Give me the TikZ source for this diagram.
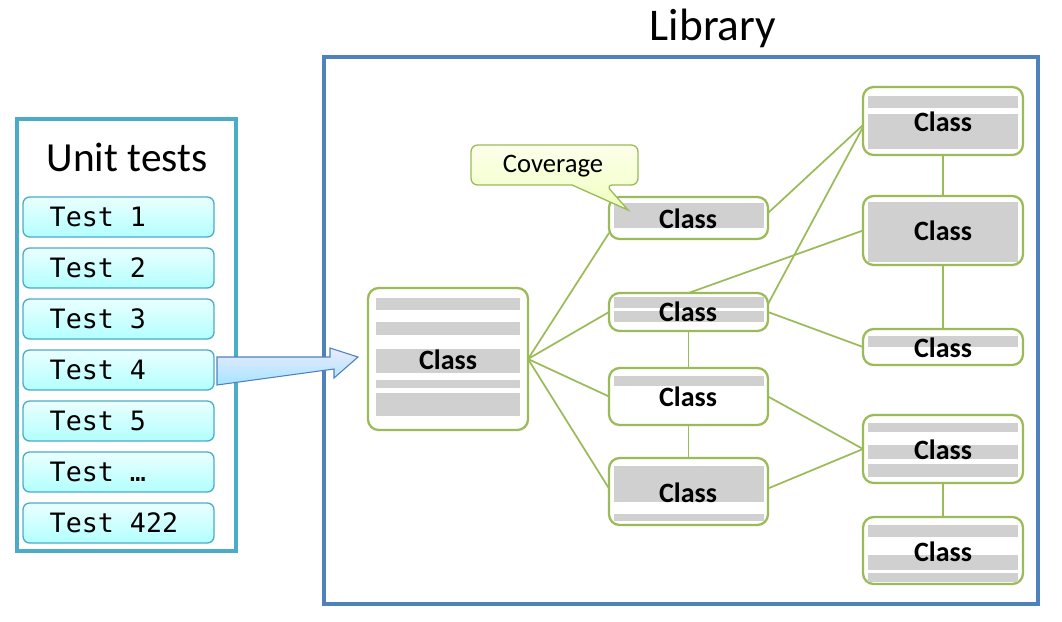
\documentclass[tikz,border=0pt]{standalone}
\usepackage{fontspec}
\setmainfont{Carlito}
\newfontfamily\monof{DejaVu Sans Mono}
\usetikzlibrary{calc}
\pgfdeclarelayer{bg}\pgfsetlayers{bg,main}
\definecolor{grn}{HTML}{9BBB59}
\definecolor{barc}{HTML}{D0D0D0}
\definecolor{tealc}{HTML}{4BACC6}
\definecolor{bluec}{HTML}{4F81BD}
\tikzset{
 cls/.style={draw=grn,line width=1.7pt,fill=white,rounded corners=8pt,inner sep=0pt,outer sep=0pt},
 clabel/.style={font=\fontsize{21}{23}\selectfont\bfseries,inner sep=0pt,anchor=center},
 bar/.style={fill=barc},
 edge/.style={draw=grn,line width=1.3pt},
 test/.style={draw=tealc,line width=1pt,top color=cyan!8,bottom color=cyan!30!white,rounded corners=5pt,inner sep=0pt,outer sep=0pt,minimum width=143.25pt,minimum height=30pt},
}
\newcommand\clsbox[5]{\node[cls,minimum width={(#4-#2)*0.75pt},minimum height={(#5-#3)*0.75pt}] (#1) at ({(#2+#4)/2},{(#3+#5)/2}) {};}
\begin{document}
\begin{tikzpicture}[x=0.75pt,y=-0.75pt]
\useasboundingbox (0,0) rectangle (1062,621);
% frames
\node[draw=tealc,line width=2.5pt,minimum width={219*0.75pt},minimum height={432*0.75pt},inner sep=0pt] (ut) at (126.5,335) {};
\node[font=\fontsize{31}{34}\selectfont] (utt) at (127,157) {Unit tests};
\node[draw=bluec,line width=2.5pt,minimum width={714*0.75pt},minimum height={547*0.75pt},inner sep=0pt] (lib) at (681,330.5) {};
\node[font=\fontsize{34}{38}\selectfont] (libt) at (713,28) {Library};
% tests
\foreach \i/\t/\y in {1/Test 1/217,2/Test 2/268,3/Test 3/319,4/Test 4/370,5/Test 5/421,6/Test …/472,7/Test 422/523}{
 \node[test] (t\i) at (118.5,\y) {};
 \node[font=\monof\fontsize{20}{22}\selectfont,anchor=west] (tt\i) at (45,\y) {\t};
}
% class boxes
\clsbox{c0}{368}{288}{528}{430}
\clsbox{c1}{609}{197}{768}{239}
\clsbox{c2}{609}{293}{768}{331}
\clsbox{c3}{609}{368}{768}{425}
\clsbox{c4}{609}{458}{768}{525}
\clsbox{r1}{863}{87}{1023}{155}
\clsbox{r2}{863}{196}{1023}{265}
\clsbox{r3}{863}{329}{1023}{365}
\clsbox{r4}{863}{415}{1023}{483}
\clsbox{r5}{863}{517}{1023}{584}
% arrow
\draw[draw=bluec,line width=0.8pt,top color=blue!8,bottom color=blue!30!cyan!35,line join=miter]
 ($(t4.east)+(3,-13)$) -- ++(113,0) -- ++(0,-9) -- ($(c0.west)+(-10,-2)$) -- (334,378) -- ++(0,-9) -- ($(t4.east)+(3,15)$) -- cycle;
% bars
\foreach \a/\b in {298/310,322/335,349/373,380/388,393/416}{\fill[bar] (376,\a) rectangle (520,\b);}
\fill[bar] (614,203) rectangle (764,228);
\foreach \a/\b in {297/308,311/322}{\fill[bar] (614,\a) rectangle (764,\b);}
\fill[bar] (614,376) rectangle (764,386);
\foreach \a/\b in {466/502,514/521}{\fill[bar] (614,\a) rectangle (764,\b);}
\foreach \a/\b in {96/108,114/149}{\fill[bar] (868,\a) rectangle (1018,\b);}
\fill[bar] (868,202) rectangle (1018,262);
\fill[bar] (868,336) rectangle (1018,347);
\foreach \a/\b in {423/432,445/459,464/477}{\fill[bar] (868,\a) rectangle (1018,\b);}
\foreach \a/\b in {525/537,555/570,573/582}{\fill[bar] (868,\a) rectangle (1018,\b);}
% labels
\foreach \n/\x/\y in {c0/448/360,c1/688/219,c2/688/312,c3/688/397,c4/688/493,r1/943/122,r2/943/231,r3/943/348,r4/943/450,r5/943/552}{
 \node[clabel] (\n t) at (\x,\y) {Class};
}
% edges
\begin{pgfonlayer}{bg}
\draw[edge] (c0.east) -- ($(c1.west)+(0,15)$);
\draw[edge] (c0.east) -- (c2.west);
\draw[edge] (c0.east) -- (c3.west);
\draw[edge] (c0.east) -- ($(c4.west)+(0,-3)$);
\draw[edge] ($(c1.east)+(0,-5)$) -- ($(r1.west)+(0,4)$);
\draw[edge] (c2.north) -- (r2.west);
\draw[edge] ($(c2.east)+(0,-8)$) -- ($(r1.west)+(0,6)$);
\draw[edge] (c2.east) -- (r3.west);
\draw[edge] (c2.south) -- (c3.north);
\draw[edge] (c3.south) -- (c4.north);
\draw[edge] (c3.east) -- (r4.west);
\draw[edge] ($(c4.east)+(0,-3)$) -- (r4.west);
\draw[edge] (r1.south) -- (r2.north);
\draw[edge] (r2.south) -- (r3.north);
\draw[edge] (r4.south) -- (r5.north);
\end{pgfonlayer}
% callout
\draw[draw=grn,line width=1pt,top color=green!8!yellow!8,bottom color=green!25!yellow!25,rounded corners=5pt]
 (471,145) -- (638,145) -- (638,185) -- (606,185) [sharp corners]-- (628,210) -- (572,185) [rounded corners=5pt]-- (471,185) -- cycle;
\node[font=\fontsize{20}{22}\selectfont,inner sep=0pt] (cov) at (553,166) {Coverage};
\end{tikzpicture}
\end{document}
